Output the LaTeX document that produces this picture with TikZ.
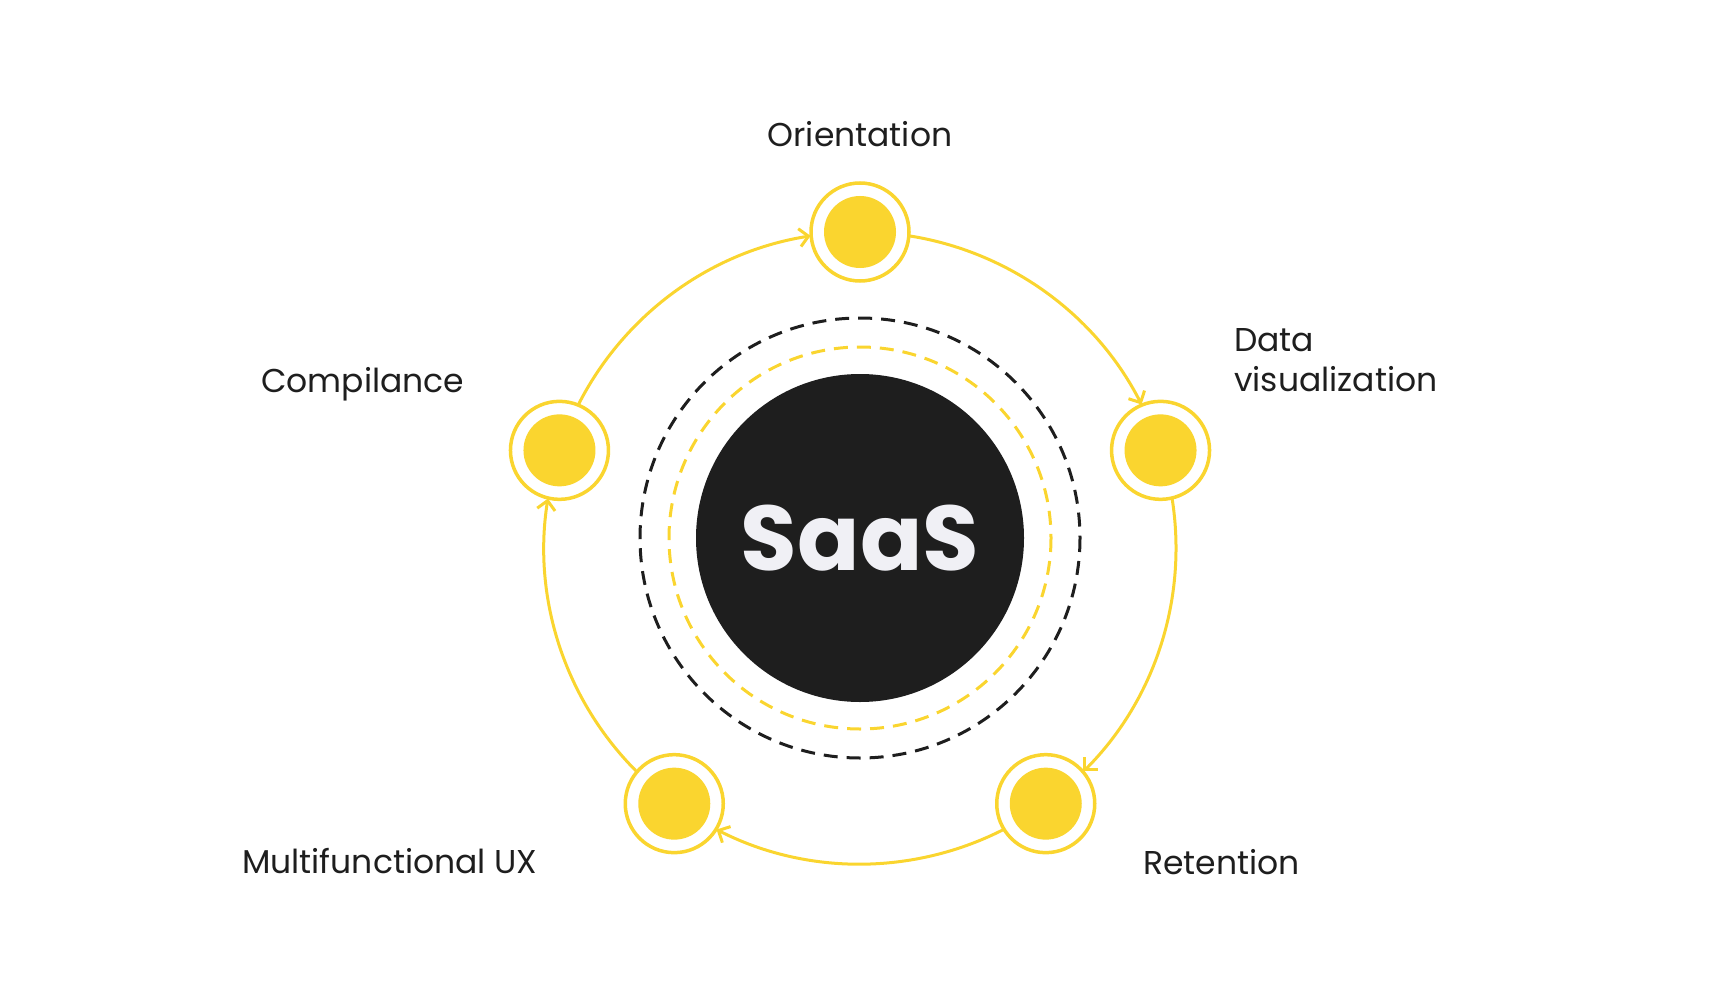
\documentclass[tikz,border=0pt]{standalone}
\usepackage{fontspec}
\setmainfont{Poppins}
\usetikzlibrary{arrows.meta,calc}
\definecolor{yel}{HTML}{FAD52F}
\definecolor{blk}{HTML}{1E1E1E}
\begin{document}
\begin{tikzpicture}[x=1pt,y=-1pt,
  ring/.style={circle,draw=yel,line width=3.5pt,fill=white,minimum size=98pt,inner sep=0pt},
  dot/.style={circle,fill=yel,minimum size=72pt,inner sep=0pt},
  arc/.style={draw=yel,line width=3pt,-{Straight Barb[length=9pt,width=18pt,line width=3pt]}},
  lab/.style={font=\fontsize{33}{40}\selectfont,text=blk,inner sep=0pt}]
\useasboundingbox (0,0) rectangle (1712,1000);
\coordinate (o) at (860,548);
\node[circle,fill=blk,minimum size=328pt,inner sep=0pt] (core) at (860,538) {};
\node[text={rgb,255:red,240;green,240;blue,245},font=\fontsize{92}{100}\selectfont\bfseries] (saas) at (860,538) {SaaS};
\draw[yel,line width=3pt,dash pattern=on 14pt off 9pt] (860,538) circle[radius=191];
\draw[blk,line width=3pt,dash pattern=on 14pt off 9pt] (860,538) circle[radius=220];
\foreach \a/\b in {162/99, 81/27, 9/-45, -63/-117, -135/-189}{
  \draw[arc] ($(o)+({316*cos(\a)},{-316*sin(\a)})$) arc[start angle=-\a,end angle=-\b,radius=316];
}
\foreach \n/\ang in {ori/90,dv/18,ret/-54,mux/-126,comp/162}{
  \node[ring] (\n) at ($(o)+({316*cos(\ang)},{-316*sin(\ang)})$) {};
  \node[dot] at (\n) {};
}
\node[lab] (lori) at (860,134) {Orientation};
\node[lab,anchor=west,align=left] (ldv) at (1234,360) {Data\\visualization};
\node[lab,anchor=west] (lret) at (1143,862) {Retention};
\node[lab,anchor=west] (lmux) at (242,861) {Multifunctional UX};
\node[lab,anchor=west] (lcomp) at (261,384) {Compilance};
\end{tikzpicture}
\end{document}
